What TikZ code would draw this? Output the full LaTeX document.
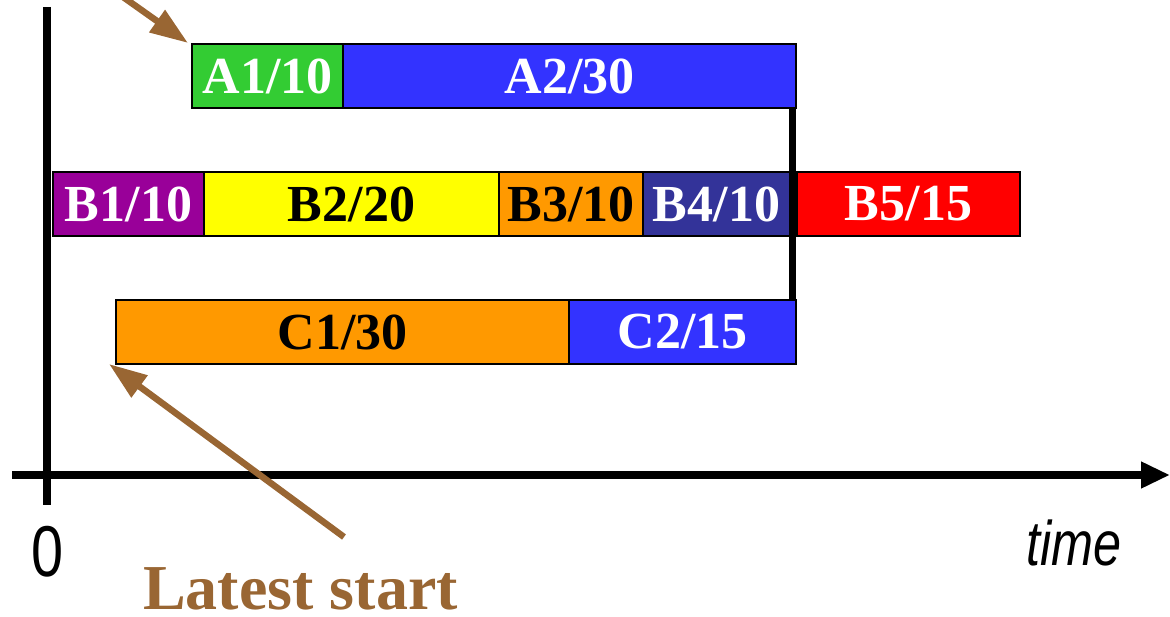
\documentclass[tikz,border=0pt]{standalone}
\usepackage{fontspec}
\setmainfont{Liberation Serif}
\newfontfamily\axisfont{Liberation Sans}
\usetikzlibrary{arrows.meta}

\definecolor{taskgreen}{HTML}{33CC33}
\definecolor{taskblue}{HTML}{3333FF}
\definecolor{taskpurple}{HTML}{990099}
\definecolor{taskyellow}{HTML}{FFFF00}
\definecolor{taskorange}{HTML}{FF9900}
\definecolor{tasknavy}{HTML}{333399}
\definecolor{taskred}{HTML}{FF0000}
\definecolor{notebrown}{HTML}{996633}

\begin{document}
\begin{tikzpicture}[x=1pt, y=-1pt,
  bar/.style={draw=black, line width=1.3pt, rectangle, inner sep=0pt,
    outer sep=0pt, minimum height=64pt, anchor=north west,
    font=\fontsize{52}{52}\selectfont\bfseries},
  axis/.style={line width=8pt},
  sync/.style={line width=7pt},
  pointer/.style={draw=notebrown, line width=6.5pt,
    -{Triangle[length=38pt,width=26pt]}},
  axislabel/.style={inner sep=0pt, font=\axisfont}]

  \useasboundingbox (0,0) rectangle (1170,617);
  \clip (0,0) rectangle (1170,617);

  % time axes
  \coordinate (ytop) at (47,7);
  \coordinate (ybot) at (47,505);
  \coordinate (xstart) at (12,475);
  \coordinate (xend) at (1170,475);
  \draw[axis] (ytop) -- (ybot);
  \draw[axis, -{Triangle[length=29pt,width=25pt]}] (xstart) -- (xend);

  % job A
  \node[bar, fill=taskgreen, text=white, minimum width=151pt] (A1) at (192,44) {A1/10};
  \node[bar, fill=taskblue, text=white, minimum width=453pt] (A2) at (A1.north east) {A2/30};

  % job B
  \node[bar, fill=taskpurple, text=white, minimum width=151pt] (B1) at (53,172) {B1/10};
  \node[bar, fill=taskyellow, text=black, minimum width=295pt] (B2) at (B1.north east) {B2/20};
  \node[bar, fill=taskorange, text=black, minimum width=144pt] (B3) at (B2.north east) {B3/10};
  \node[bar, fill=tasknavy, text=white, minimum width=147pt] (B4) at (B3.north east) {B4/10};
  \node[bar, fill=taskred, text=white, minimum width=223pt] (B5) at ([xshift=7pt]B4.north east) {B5/15};

  % job C
  \node[bar, fill=taskorange, text=black, minimum width=453pt] (C1) at (116,300) {C1/30};
  \node[bar, fill=taskblue, text=white, minimum width=227pt] (C2) at (C1.north east) {C2/15};

  % common deadline
  \draw[sync] ([xshift=-3.5pt]A2.south east) -- ([xshift=-3.5pt]C2.north east);

  % annotations
  \coordinate (topsrc) at (116,-8);
  \draw[pointer] (topsrc) -- ([shift={(-4pt,1pt)}]A1.north west);
  \coordinate (latesrc) at (344,537);
  \draw[pointer] (latesrc) -- ([xshift=-7pt]C1.south west);

  \node[anchor=base west, inner sep=0pt, text=notebrown,
    font=\fontsize{64}{64}\selectfont\bfseries] (late) at (143,609) {Latest start};

  \node[axislabel, font=\axisfont\fontsize{72}{72}\selectfont] (zero) at (48,552) {\scalebox{0.8}[1]{0}};
  \node[axislabel, anchor=base west, font=\axisfont\itshape\fontsize{63}{63}\selectfont] (time) at (1026,565) {\scalebox{0.8}[1]{time}};
\end{tikzpicture}
\end{document}
